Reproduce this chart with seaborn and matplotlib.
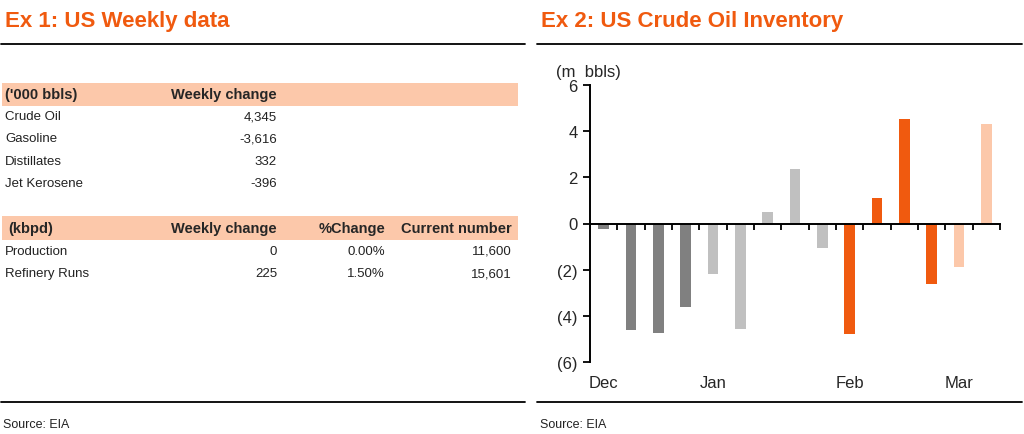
import numpy as np
import pandas as pd
import matplotlib.pyplot as plt
import matplotlib.transforms as mtransforms
from matplotlib.patches import Rectangle
import seaborn as sns

sns.set_style("white")
plt.rcParams['font.family'] = ['Liberation Sans', 'DejaVu Sans']

ORANGE = "#f05a0f"
PEACH = "#fcc8aa"
DARK_GREY = "#808080"
LIGHT_GREY = "#c0c0c0"

# table 1: stocks ('000 bbls)
stock_items = ["Crude Oil", "Gasoline", "Distillates", "Jet Kerosene"]
stock_change = ["4,345", "-3,616", "332", "-396"]

# table 2: flows (kbpd)
flow_items = ["Production", "Refinery Runs"]
flow_change = ["0", "225"]
flow_pct = ["0.00%", "1.50%"]
flow_current = ["11,600", "15,601"]

# chart: weekly crude inventory change (m bbls)
weeks = [f"w{i}" for i in range(1, 16)]
inv_change = [-0.25, -4.6, -4.75, -3.6, -2.17, -4.58, 0.49, 2.38, -1.06,
              -4.78, 1.1, 4.52, -2.62, -1.88, 4.29]
bar_colors = [DARK_GREY] * 4 + [LIGHT_GREY] * 5 + [ORANGE] * 4 + [PEACH] * 2
month_labels = ["Dec", "Jan", "Feb", "Mar"]
month_pos = [0, 4, 9, 13]

W, H = 1024, 435
fig = plt.figure(figsize=(W / 100, H / 100), dpi=100)


def fx(px):
    return px / W


def fy(py):
    return 1 - py / H


# titles and rules
fig.text(fx(5), fy(22), "Ex 1: US Weekly data", color=ORANGE, fontsize=16,
         fontweight="bold", va="center", ha="left")
fig.text(fx(541), fy(22), "Ex 2: US Crude Oil Inventory", color=ORANGE, fontsize=16,
         fontweight="bold", va="center", ha="left")
for x0, x1 in [(1, 525), (537, 1022)]:
    fig.add_artist(plt.Line2D([fx(x0), fx(x1)], [fy(45), fy(45)], color="black", lw=1.3))
    fig.add_artist(plt.Line2D([fx(x0), fx(x1)], [fy(403), fy(403)], color="black", lw=1.3))
fig.text(fx(3), fy(425), "Source: EIA", fontsize=9, va="center", color="#222222")
fig.text(fx(540), fy(425), "Source: EIA", fontsize=9, va="center", color="#222222")

# table bands
fs = 9.5
hfs = 10.5
for top, bot in [(84, 107), (217, 241)]:
    fig.add_artist(Rectangle((fx(2), fy(bot)), fx(518) - fx(2), fy(top) - fy(bot),
                             transform=fig.transFigure, color=PEACH, lw=0))

col_change, col_pct, col_cur = 277, 385, 512

fig.text(fx(5), fy(95), "('000 bbls)", fontsize=hfs, fontweight="bold", va="center")
fig.text(fx(col_change), fy(95), "Weekly change", fontsize=hfs, fontweight="bold",
         va="center", ha="right")
for i, (name, val) in enumerate(zip(stock_items, stock_change)):
    y = 117 + i * 22.3
    fig.text(fx(5), fy(y), name, fontsize=fs, va="center", color="#222222")
    fig.text(fx(col_change), fy(y), val, fontsize=fs, va="center", ha="right", color="#222222")

fig.text(fx(8), fy(229), "(kbpd)", fontsize=hfs, fontweight="bold", va="center")
for xc, lab in [(col_change, "Weekly change"), (col_pct, "%Change"), (col_cur, "Current number")]:
    fig.text(fx(xc), fy(229), lab, fontsize=hfs, fontweight="bold", va="center", ha="right")
for i, name in enumerate(flow_items):
    y = 252 + i * 22.3
    fig.text(fx(5), fy(y), name, fontsize=fs, va="center", color="#222222")
    fig.text(fx(col_change), fy(y), flow_change[i], fontsize=fs, va="center", ha="right", color="#222222")
    fig.text(fx(col_pct), fy(y), flow_pct[i], fontsize=fs, va="center", ha="right", color="#222222")
    fig.text(fx(col_cur), fy(y), flow_current[i], fontsize=fs, va="center", ha="right", color="#222222")

# bar chart
ax = fig.add_axes([fx(590), fy(363), fx(1000) - fx(590), fy(86) - fy(363)])
df = pd.DataFrame({"week": weeks, "change": inv_change})
sns.barplot(data=df, x="week", y="change", hue="week", palette=bar_colors,
            legend=False, width=0.4, dodge=False, saturation=1, linewidth=0, ax=ax)
ax.set_xlim(-0.5, len(weeks) - 0.5)
ax.set_ylim(-6, 6)
ax.set_xlabel("")
ax.set_ylabel("")

for s in ["top", "right"]:
    ax.spines[s].set_visible(False)
ax.spines["bottom"].set_position(("data", 0))
for s in ["left", "bottom"]:
    ax.spines[s].set_color("black")
    ax.spines[s].set_linewidth(1.4)
    ax.spines[s].set_zorder(5)

ax.set_xticks(np.arange(-0.5, len(weeks), 1))
ax.set_xticklabels([])
ax.tick_params(axis="x", bottom=True, direction="out", length=4, width=1.3, color="black")

yt = np.arange(-6, 7, 2)
ax.set_yticks(yt)
ax.set_yticklabels([f"({abs(v)})" if v < 0 else f"{v}" for v in yt], fontsize=12)
ax.tick_params(axis="y", left=True, direction="out", length=5, width=1.3, color="black", pad=4)

trans = mtransforms.blended_transform_factory(ax.transData, ax.transAxes)
for p, lab in zip(month_pos, month_labels):
    ax.text(p, -0.075, lab, transform=trans, ha="center", va="center", fontsize=12)

fig.text(fx(556), fy(72), "(m  bbls)", fontsize=12, va="center", ha="left")

fig.savefig("out.png", dpi=100)
